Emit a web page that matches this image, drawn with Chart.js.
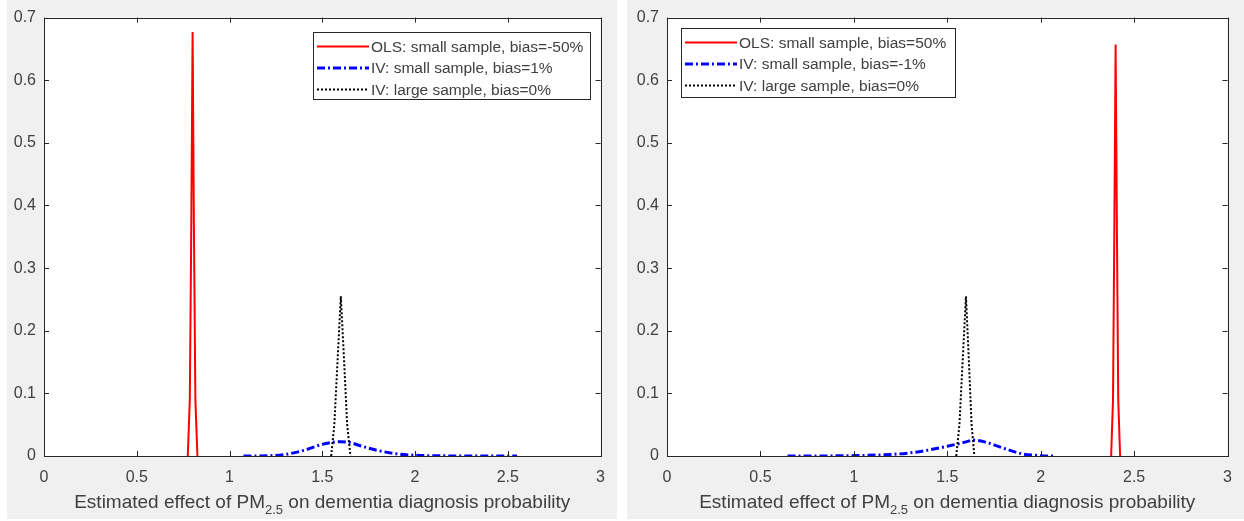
<!DOCTYPE html>
<html>
<head>
<meta charset="utf-8">
<title>Estimated effect of PM2.5 on dementia diagnosis probability</title>
<script src="https://cdn.jsdelivr.net/npm/chart.js@4.4.1/dist/chart.umd.min.js"></script>
<style>
    html, body { margin: 0; padding: 0; background: #ffffff; }
    body { width: 1244px; height: 521px; position: relative; overflow: hidden; }
    .panel { position: absolute; top: 0; height: 519px; background: #f0f0f0; }
    #leftPanel { left: 7px; width: 610px; }
    #rightPanel { left: 627px; width: 617px; }
    canvas { display: block; }
</style>
</head>
<body>
<div class="panel" id="leftPanel"><canvas id="leftCanvas" width="610" height="519"></canvas></div>
<div class="panel" id="rightPanel"><canvas id="rightCanvas" width="617" height="519"></canvas></div>
<script>
// axis ticks (shared by both panels)
const xTickValues = [0, 0.5, 1, 1.5, 2, 2.5, 3];
const xTickLabels = ['0', '0.5', '1', '1.5', '2', '2.5', '3'];
const yTickValues = [0, 0.1, 0.2, 0.3, 0.4, 0.5, 0.6, 0.7];
const yTickLabels = ['0', '0.1', '0.2', '0.3', '0.4', '0.5', '0.6', '0.7'];

// x axis title: text, subscript, rest
const titleStart = 'Estimated effect of PM';
const titleSub = '2.5';
const titleEnd = ' on dementia diagnosis probability';

// left panel: legend labels
const leftLabels = ['OLS: small sample, bias=-50%', 'IV: small sample, bias=1%', 'IV: large sample, bias=0%'];

// left panel: OLS small sample
const leftOlsX = [0.775, 0.786, 0.794, 0.801, 0.808, 0.816, 0.827];
const leftOlsY = [0, 0.09, 0.37, 0.677, 0.37, 0.09, 0];

// left panel: IV small sample
const leftIvSmallX = [1.075, 1.2, 1.3, 1.4, 1.5, 1.55, 1.6, 1.65, 1.7, 1.8, 1.9, 2.0, 2.1, 2.3, 2.55];
const leftIvSmallY = [0, 0.0003, 0.0025, 0.009, 0.0185, 0.0215, 0.0228, 0.0215, 0.0168, 0.0088, 0.0035, 0.0012, 0.0004, 0.0001, 0];

// left panel: IV large sample
const leftIvLargeX = [1.548, 1.565, 1.582, 1.6, 1.618, 1.634, 1.652];
const leftIvLargeY = [0, 0.05, 0.15, 0.255, 0.15, 0.05, 0];

// right panel: legend labels
const rightLabels = ['OLS: small sample, bias=50%', 'IV: small sample, bias=-1%', 'IV: large sample, bias=0%'];

// right panel: OLS small sample
const rightOlsX = [2.377, 2.387, 2.394, 2.401, 2.408, 2.415, 2.425];
const rightOlsY = [0, 0.09, 0.36, 0.657, 0.36, 0.09, 0];

// right panel: IV small sample
const rightIvSmallX = [0.645, 0.8, 1.0, 1.2, 1.3, 1.4, 1.5, 1.6, 1.64, 1.7, 1.8, 1.9, 2.0, 2.07];
const rightIvSmallY = [0, 0.0001, 0.0006, 0.0025, 0.005, 0.0095, 0.0155, 0.0225, 0.0254, 0.0225, 0.0125, 0.0035, 0.0006, 0];

// right panel: IV large sample
const rightIvLargeX = [1.548, 1.565, 1.582, 1.6, 1.616, 1.63, 1.645];
const rightIvLargeY = [0, 0.05, 0.15, 0.255, 0.15, 0.05, 0];

const FONT = '"Liberation Sans", Arial, Helvetica, sans-serif';
const AXIS_COLOR = '#262626';
const TEXT_COLOR = '#404040';

function toPoints(xs, ys) {
    return xs.map((x, i) => ({ x: x, y: ys[i] }));
}

// MATLAB style box: white axes, frame, inward ticks, legend, x label
const matlabAxes = {
    id: 'matlabAxes',
    beforeDraw(chart) {
        const { ctx, chartArea: a } = chart;
        ctx.save();
        ctx.fillStyle = '#ffffff';
        ctx.fillRect(a.left, a.top, a.right - a.left, a.bottom - a.top);
        ctx.restore();
    },
    afterDatasetsDraw(chart, args, opts) {
        const { ctx, chartArea: a, scales } = chart;
        const tick = 5;
        ctx.save();
        ctx.strokeStyle = AXIS_COLOR;
        ctx.lineWidth = 1;
        ctx.setLineDash([]);
        ctx.beginPath();
        scales.x.ticks.forEach(t => {
            const px = Math.round(scales.x.getPixelForValue(t.value)) + 0.5;
            ctx.moveTo(px, a.bottom);
            ctx.lineTo(px, a.bottom - tick);
            ctx.moveTo(px, a.top);
            ctx.lineTo(px, a.top + tick);
        });
        scales.y.ticks.forEach(t => {
            const py = Math.round(scales.y.getPixelForValue(t.value)) + 0.5;
            ctx.moveTo(a.left, py);
            ctx.lineTo(a.left + tick, py);
            ctx.moveTo(a.right, py);
            ctx.lineTo(a.right - tick, py);
        });
        ctx.stroke();
        ctx.strokeRect(Math.round(a.left) + 0.5, Math.round(a.top) + 0.5,
            Math.round(a.right - a.left), Math.round(a.bottom - a.top));
        ctx.restore();

        drawLegend(chart, opts.legend);
    },
    afterDraw(chart) {
        drawAxisTitle(chart);
    }
};

function drawLegend(chart, box) {
    const ctx = chart.ctx;
    ctx.save();
    ctx.fillStyle = '#ffffff';
    ctx.fillRect(box.left, box.top, box.width, box.height);
    ctx.strokeStyle = AXIS_COLOR;
    ctx.lineWidth = 1;
    ctx.strokeRect(box.left + 0.5, box.top + 0.5, box.width, box.height);

    ctx.font = '15.5px ' + FONT;
    ctx.textBaseline = 'middle';
    ctx.fillStyle = TEXT_COLOR;
    chart.data.datasets.forEach((ds, i) => {
        const y = box.top + 14.5 + i * 21.5;
        ctx.save();
        ctx.strokeStyle = ds.borderColor;
        ctx.lineWidth = ds.borderWidth;
        ctx.setLineDash(ds.borderDash || []);
        ctx.beginPath();
        ctx.moveTo(box.left + 4, y);
        ctx.lineTo(box.left + 56, y);
        ctx.stroke();
        ctx.restore();
        ctx.fillText(ds.label, box.left + 58, y + 1);
    });
    ctx.restore();
}

function drawAxisTitle(chart) {
    const { ctx, chartArea: a } = chart;
    const mainFont = '19px ' + FONT;
    const subFont = '13px ' + FONT;
    ctx.save();
    ctx.fillStyle = TEXT_COLOR;
    ctx.textBaseline = 'alphabetic';
    ctx.font = mainFont;
    const w1 = ctx.measureText(titleStart).width;
    const w3 = ctx.measureText(titleEnd).width;
    ctx.font = subFont;
    const w2 = ctx.measureText(titleSub).width;
    let x = (a.left + a.right) / 2 - (w1 + w2 + w3) / 2;
    const base = a.bottom + 52;
    ctx.font = mainFont;
    ctx.fillText(titleStart, x, base);
    x += w1;
    ctx.font = subFont;
    ctx.fillText(titleSub, x, base + 6);
    x += w2;
    ctx.font = mainFont;
    ctx.fillText(titleEnd, x, base);
    ctx.restore();
}

function createPanel(canvasId, labels, series, layout) {
    const ctx = document.getElementById(canvasId).getContext('2d');
    const colors = ['#ff0000', '#0000ff', '#000000'];
    const dashes = [[], [8, 3, 2, 3], [2, 2]];
    const widths = [2, 3, 2];

    return new Chart(ctx, {
        type: 'line',
        data: {
            datasets: series.map((s, i) => ({
                label: labels[i],
                data: toPoints(s[0], s[1]),
                borderColor: colors[i],
                borderWidth: widths[i],
                borderDash: dashes[i],
                pointRadius: 0,
                fill: false,
                tension: 0,
                cubicInterpolationMode: i === 1 ? 'monotone' : 'default',
                order: 3 - i
            }))
        },
        options: {
            responsive: false,
            animation: false,
            devicePixelRatio: 1,
            layout: {
                padding: layout.padding
            },
            plugins: {
                legend: { display: false },
                tooltip: { enabled: false },
                matlabAxes: { legend: layout.legend }
            },
            scales: {
                x: {
                    type: 'linear',
                    min: 0,
                    max: 3,
                    grid: { display: false, drawTicks: false },
                    border: { display: false },
                    afterBuildTicks: scale => {
                        scale.ticks = xTickValues.map(v => ({ value: v }));
                    },
                    afterFit: scale => {
                        scale.height = 63;
                    },
                    ticks: {
                        padding: 12,
                        color: TEXT_COLOR,
                        font: { family: FONT, size: 16 },
                        maxRotation: 0,
                        autoSkip: false,
                        callback: function(value, index) {
                            return xTickLabels[index];
                        }
                    }
                },
                y: {
                    type: 'linear',
                    min: 0,
                    max: 0.7,
                    grid: { display: false, drawTicks: false },
                    border: { display: false },
                    afterBuildTicks: scale => {
                        scale.ticks = yTickValues.map(v => ({ value: v }));
                    },
                    afterFit: scale => {
                        scale.width = layout.yWidth;
                    },
                    ticks: {
                        padding: 8,
                        color: TEXT_COLOR,
                        font: { family: FONT, size: 16 },
                        autoSkip: false,
                        callback: function(value, index) {
                            return yTickLabels[index];
                        }
                    }
                }
            }
        },
        plugins: [matlabAxes]
    });
}

document.addEventListener('DOMContentLoaded', function() {
    createPanel('leftCanvas', leftLabels, [
        [leftOlsX, leftOlsY],
        [leftIvSmallX, leftIvSmallY],
        [leftIvLargeX, leftIvLargeY]
    ], {
        padding: { top: 17, right: 13, bottom: 0, left: 0 },
        yWidth: 37,
        legend: { left: 306, top: 32, width: 277, height: 67 }
    });

    createPanel('rightCanvas', rightLabels, [
        [rightOlsX, rightOlsY],
        [rightIvSmallX, rightIvSmallY],
        [rightIvLargeX, rightIvLargeY]
    ], {
        padding: { top: 14, right: 14, bottom: 0, left: 0 },
        yWidth: 40,
        legend: { left: 54, top: 28, width: 274, height: 69 }
    });
});
</script>
</body>
</html>
